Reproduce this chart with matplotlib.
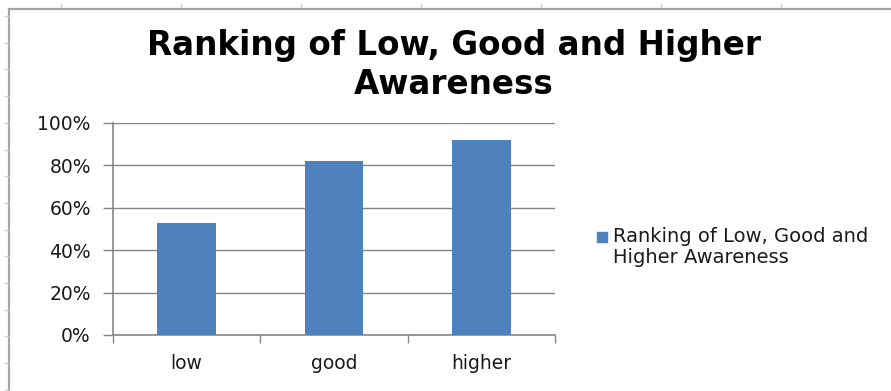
import matplotlib
matplotlib.use("Agg")
import matplotlib.pyplot as plt
from matplotlib.lines import Line2D
from matplotlib.ticker import FuncFormatter

# Awareness shares per level
categories = ["low", "good", "higher"]
awareness = [0.53, 0.82, 0.92]
y_ticks = [0.0, 0.2, 0.4, 0.6, 0.8, 1.0]
series_name = "Ranking of Low, Good and\nHigher Awareness"
title = "Ranking of Low, Good and Higher\nAwareness"

BAR_COLOR = "#4F81BD"
AXIS_GRAY = "#868686"
FRAME_GRAY = "#a6a6a6"
TEXT = "#1a1a1a"

W, H = 891, 391

plt.rcParams["font.family"] = ["DejaVu Sans"]

fig = plt.figure(figsize=(W / 100, H / 100), dpi=100)
ax = fig.add_axes([113 / W, 56 / H, 442 / W, 212 / H])

x = range(len(categories))
ax.bar(x, awareness, width=0.4, color=BAR_COLOR, zorder=3)

ax.set_xlim(-0.5, len(categories) - 0.5)
ax.set_ylim(0, 1.0)
ax.set_yticks(y_ticks)
ax.yaxis.set_major_formatter(FuncFormatter(lambda v, _: f"{v:.0%}"))
ax.yaxis.grid(True, color=AXIS_GRAY, linewidth=1.0, zorder=0)

# category ticks sit on the boundaries between groups
ax.set_xticks([i - 0.5 for i in range(len(categories) + 1)])
ax.set_xticklabels([])
ax.set_xticks(list(x), minor=True)
ax.set_xticklabels(categories, minor=True, fontsize=13.5, color=TEXT)
ax.tick_params(axis="x", which="major", length=6, width=1, color=AXIS_GRAY, direction="out")
ax.tick_params(axis="x", which="minor", length=0, pad=14)
ax.tick_params(axis="y", length=7, width=1, color=AXIS_GRAY, labelsize=13.5,
               labelcolor=TEXT, pad=9)

for side in ("top", "right"):
    ax.spines[side].set_visible(False)
for side in ("left", "bottom"):
    ax.spines[side].set_color(AXIS_GRAY)
    ax.spines[side].set_linewidth(1.2)

fig.text(454 / W, 1 - 29 / H, title, ha="center", va="top", fontsize=23.5,
         fontweight="bold", color="black", linespacing=1.22)

# legend entry to the right of the plot
fig.patches.append(plt.Rectangle((597 / W, 1 - 242 / H), 10 / W, 10 / H,
                                 transform=fig.transFigure, color=BAR_COLOR))
fig.text(613 / W, 1 - 247 / H, series_name, ha="left", va="center",
         fontsize=14, color=TEXT, linespacing=1.08)

# chart frame edges
fig.add_artist(Line2D([9 / W, 1.0], [1 - 8.5 / H] * 2, color=FRAME_GRAY, lw=1.6,
                      transform=fig.transFigure))
fig.add_artist(Line2D([9 / W] * 2, [0.0, 1 - 8.5 / H], color=FRAME_GRAY, lw=1.6,
                      transform=fig.transFigure))

# sheet ruler marks along the top and left edges
for px in range(61, W, 120):
    fig.add_artist(Line2D([px / W] * 2, [1 - 4 / H, 1 - 7 / H], color="#c9cde0",
                          lw=1, transform=fig.transFigure))
for k in range(15):
    py = 16 + 26.7 * k
    fig.add_artist(Line2D([5 / W, 8 / W], [1 - py / H] * 2, color="#c9cde0",
                          lw=1, transform=fig.transFigure))

fig.savefig("out.png", dpi=100)
